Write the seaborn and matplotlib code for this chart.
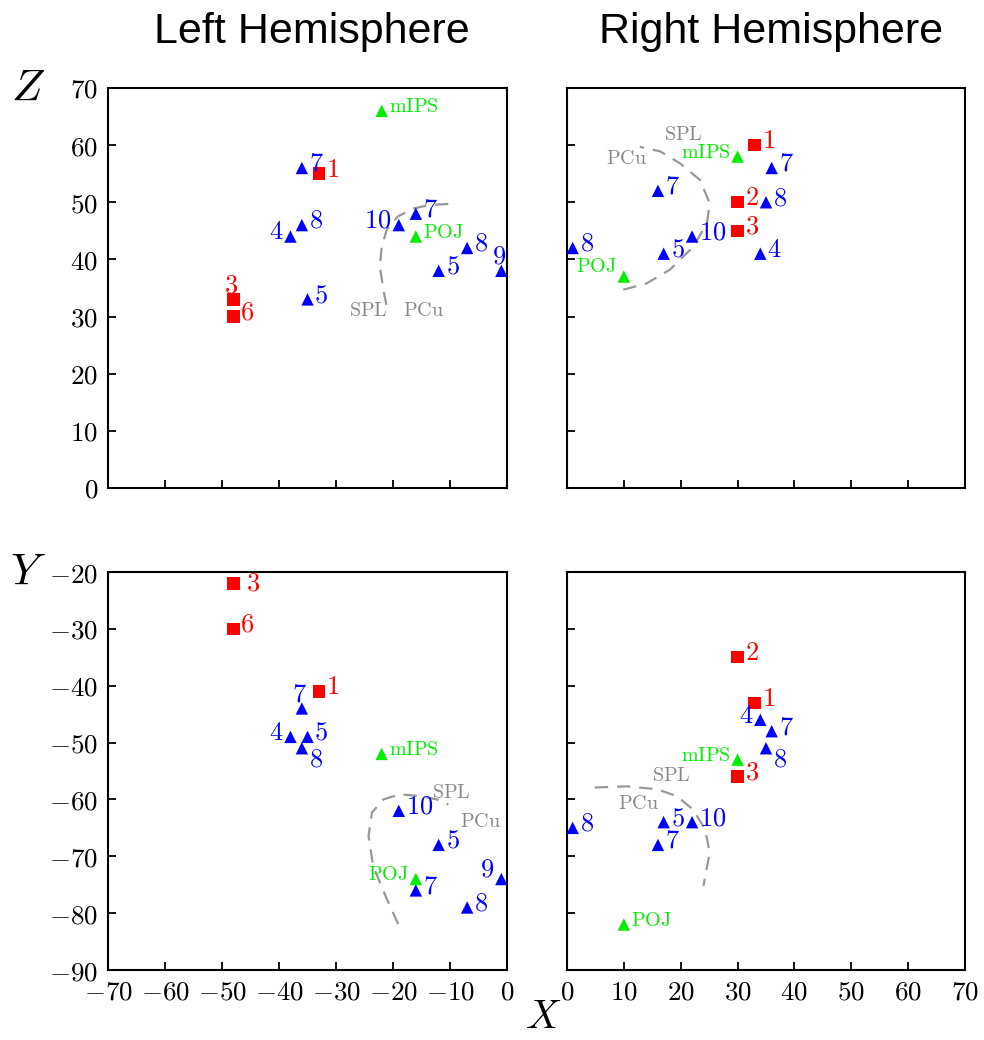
import pandas as pd
import matplotlib
matplotlib.use('Agg')
import matplotlib.pyplot as plt
import matplotlib.ticker as mticker
import seaborn as sns

# Point labels and coordinates (X, Y, Z) for each hemisphere
labels_L = ['1', '3', '6', '4', '5', '5', '7', '7', '8', '8', '9', '10', 'mIPS', 'POJ']
x_L = [-33, -48, -48, -38, -35, -12, -36, -16, -36, -7, -1, -19, -22, -16]
y_L = [-41, -22, -30, -49, -49, -68, -44, -76, -51, -79, -74, -62, -52, -74]
z_L = [55, 33, 30, 44, 33, 38, 56, 48, 46, 42, 38, 46, 66, 44]

labels_R = ['1', '2', '3', '4', '5', '7', '7', '8', '8', '10', 'mIPS', 'POJ']
x_R = [33, 30, 30, 34, 17, 36, 16, 35, 1, 22, 30, 10]
y_R = [-43, -35, -56, -46, -64, -48, -68, -51, -65, -64, -53, -82]
z_R = [60, 50, 45, 41, 41, 56, 52, 50, 42, 44, 58, 37]

# SPL / PCu boundary
curve_TL_x = [-10.3, -13.8, -16.4, -19.2, -21.1, -22.0, -22.3, -21.7, -21.1]
curve_TL_y = [49.7, 49.5, 48.9, 47.5, 45.2, 42.2, 38.7, 34.7, 31.7]
curve_TR_x = [9.9, 14, 18.1, 22.2, 24.6, 25.1, 23.4, 19.9, 16.4, 12.8]
curve_TR_y = [34.7, 35.8, 38.2, 42.2, 46.3, 49.8, 53.9, 56.8, 58.9, 59.7]
curve_BL_x = [-19.1, -21.1, -23.5, -24.3, -23.7, -21.7, -18.8, -15.3, -12.3, -10.3]
curve_BL_y = [-81.9, -77.5, -71.7, -66.4, -62.3, -60, -59.1, -59.4, -60, -60.9]
curve_BR_x = [4.9, 10.5, 15.8, 19.3, 22.2, 24.3, 25.1, 24.0]
curve_BR_y = [-57.9, -57.7, -58.2, -59.4, -61.8, -65.3, -69.4, -75.2]


def group_of(lab):
    if lab in ('mIPS', 'POJ'):
        return 'region'
    if lab in ('1', '2', '3', '6'):
        return 'red'
    return 'blue'


df_L = pd.DataFrame({'label': labels_L, 'X': x_L, 'Y': y_L, 'Z': z_L})
df_R = pd.DataFrame({'label': labels_R, 'X': x_R, 'Y': y_R, 'Z': z_R})
for d in (df_L, df_R):
    d['group'] = d['label'].map(group_of)

palette = {'red': '#ff0000', 'blue': '#0000ff', 'region': '#00ee00'}
markers = {'red': 's', 'blue': '^', 'region': '^'}

sns.set_style('ticks')
plt.rcParams['mathtext.fontset'] = 'cm'
plt.rcParams['font.family'] = ['DejaVu Sans']
plt.rcParams['text.color'] = 'black'
plt.rcParams['xtick.color'] = 'black'
plt.rcParams['ytick.color'] = 'black'

fig = plt.figure(figsize=(9.84, 10.4), dpi=100)
ax_tl = fig.add_axes([0.1098, 0.5308, 0.4055, 0.3846])
ax_tr = fig.add_axes([0.5762, 0.5308, 0.4045, 0.3846])
ax_bl = fig.add_axes([0.1098, 0.0673, 0.4055, 0.3827])
ax_br = fig.add_axes([0.5762, 0.0673, 0.4045, 0.3827])

# label placement: (dx, dy in points, ha)
place = {'r': (5, 3, 'left'), 'rr': (9, 0, 'left'), 'l': (-5, 3, 'right'),
         'u': (-2, 10, 'center'), 'dr': (5, -8, 'left'), 'lu': (-5, 7, 'right')}
pos_TL = ['r', 'u', 'r', 'l', 'r', 'r', 'r', 'r', 'r', 'r', 'u', 'l', 'r', 'r']
pos_BL = ['r', 'rr', 'r', 'l', 'r', 'r', 'u', 'r', 'dr', 'r', 'lu', 'r', 'r', 'l']
pos_TR = ['r', 'r', 'r', 'r', 'r', 'r', 'r', 'r', 'r', 'r', 'l', 'lu']
pos_BR = ['r', 'r', 'r', 'l', 'r', 'r', 'r', 'dr', 'r', 'r', 'l', 'r']

panels = [
    (ax_tl, df_L, 'Z', pos_TL, curve_TL_x, curve_TL_y, [(-24.4, 31, 'SPL'), (-14.7, 31, 'PCu')]),
    (ax_tr, df_R, 'Z', pos_TR, curve_TR_x, curve_TR_y, [(20.5, 61.8, 'SPL'), (10.5, 57.6, 'PCu')]),
    (ax_bl, df_L, 'Y', pos_BL, curve_BL_x, curve_BL_y, [(-9.7, -58.8, 'SPL'), (-4.7, -63.8, 'PCu')]),
    (ax_br, df_R, 'Y', pos_BR, curve_BR_x, curve_BR_y, [(18.4, -55.8, 'SPL'), (12.5, -60.8, 'PCu')]),
]

for ax, d, ycol, pos, cx, cy, regs in panels:
    ax.plot(cx, cy, linestyle=(0, (6, 4)), color='#999999', lw=1.6)
    for tx, ty, t in regs:
        ax.text(tx, ty, r'$\mathrm{%s}$' % t, color='#888888', fontsize=14.5,
                ha='center', va='center')
    sns.scatterplot(data=d, x='X', y=ycol, hue='group', style='group',
                    palette=palette, markers=markers, s=80, linewidth=0,
                    legend=False, ax=ax, clip_on=False, zorder=3)
    for (_, row), p in zip(d.iterrows(), pos):
        dx, dy, ha = place[p]
        col = palette[row['group']]
        fs = 14.5 if row['group'] == 'region' else 19
        ax.annotate(r'$\mathrm{%s}$' % row['label'], (row['X'], row[ycol]),
                    xytext=(dx, dy), textcoords='offset points', ha=ha,
                    va='center', color=col, fontsize=fs)
    ax.set_xlabel('')
    ax.set_ylabel('')
    for sp in ax.spines.values():
        sp.set_visible(True)
        sp.set_color('black')
        sp.set_linewidth(1.5)
    ax.tick_params(direction='in', length=6, width=1.3, labelsize=19.5,
                   top=False, right=False, pad=7)
    ax.tick_params(axis='x', pad=7)

fmt = mticker.FuncFormatter(lambda v, _: r'$%d$' % v)
for ax in (ax_tl, ax_bl):
    ax.set_xlim(-70, 0)
for ax in (ax_tr, ax_br):
    ax.set_xlim(0, 70)
for ax in (ax_tl, ax_tr):
    ax.set_ylim(0, 70)
for ax in (ax_bl, ax_br):
    ax.set_ylim(-90, -20)
for ax in (ax_tl, ax_tr, ax_bl, ax_br):
    ax.xaxis.set_major_locator(mticker.MultipleLocator(10))
    ax.yaxis.set_major_locator(mticker.MultipleLocator(10))
    ax.xaxis.set_major_formatter(fmt)
    ax.yaxis.set_major_formatter(fmt)
ax_tl.tick_params(labelbottom=False)
ax_tr.tick_params(labelbottom=False, labelleft=False)
ax_br.tick_params(labelleft=False)

fig.text(312 / 984, 1 - 32 / 1040, 'Left Hemisphere', fontsize=31,
         family='Liberation Sans', ha='center', va='center')
fig.text(771 / 984, 1 - 32 / 1040, 'Right Hemisphere', fontsize=31,
         family='Liberation Sans', ha='center', va='center')

fig.text(28 / 984, 1 - 88 / 1040, r'$Z$', fontsize=32, ha='center', va='center')
fig.text(28 / 984, 1 - 572 / 1040, r'$Y$', fontsize=32, ha='center', va='center')
fig.text(543 / 984, 1 - 1017 / 1040, r'$X$', fontsize=29, ha='center', va='center')

plt.savefig('out.png', dpi=100)
